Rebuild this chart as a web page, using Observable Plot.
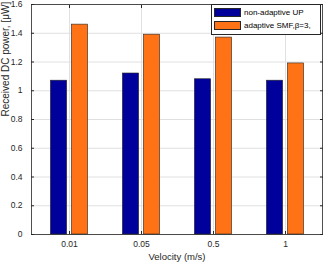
<!DOCTYPE html>
<html><head><meta charset="utf-8">
<script src="https://cdn.jsdelivr.net/npm/d3@7"></script>
<script src="https://cdn.jsdelivr.net/npm/@observablehq/plot@0.6"></script>
<style>
body{margin:0;background:#fff;font-family:"Liberation Sans",Arial,sans-serif;}
#wrap{position:relative;width:324px;height:263px;}
#legend{position:absolute;left:211px;top:4px;width:110px;height:31px;box-sizing:border-box;border:1px solid #262626;background:#fff;font-size:8px;color:#000;}
.row{position:absolute;left:2px;height:9px;display:flex;align-items:center;}
.sw{width:27px;height:9px;box-sizing:border-box;border:1px solid #262626;margin-right:3px;}
</style></head>
<body><div id="wrap"><div id="legend"></div></div>
<script>
const categories = ["0.01", "0.05", "0.5", "1"];
const seriesNames = ["non-adaptive UP", "adaptive SMF,β=3,"];
const nonAdaptive = [1.07, 1.12, 1.08, 1.07];
const adaptive = [1.46, 1.39, 1.37, 1.19];
const yTicks = [0, 0.2, 0.4, 0.6, 0.8, 1, 1.2, 1.4, 1.6];
const xLabel = "Velocity (m/s)";
const yLabel = "Received DC power, [μW]";
const colors = ["#00009b", "#ff7316"];

const dataA = categories.map((c, i) => ({cat: c, v: nonAdaptive[i]}));
const dataB = categories.map((c, i) => ({cat: c, v: adaptive[i]}));

const W = 324, H = 263;
const ml = 31, mr = 2;
const step = (W - ml - mr) / categories.length;
const barW = 17, gap = 4;
const inset = (step - barW) / 2;
const off = (barW + gap) / 2;

const chart = Plot.plot({
  width: W, height: H,
  marginLeft: ml, marginRight: mr, marginTop: 4, marginBottom: 29,
  style: {fontFamily: "Liberation Sans, Arial, sans-serif", fontSize: "8.5px", color: "#262626", background: "#fff"},
  x: {domain: categories, padding: 0},
  y: {domain: [0, 1.6]},
  marks: [
    Plot.gridX(categories, {stroke: "#e0e0e0", strokeOpacity: 1}),
    Plot.gridY(yTicks, {stroke: "#e0e0e0", strokeOpacity: 1}),
    Plot.barY(dataA, {x: "cat", y: "v", fill: colors[0], stroke: "#262626", strokeWidth: 0.6, insetLeft: inset, insetRight: inset, dx: -off}),
    Plot.barY(dataB, {x: "cat", y: "v", fill: colors[1], stroke: "#262626", strokeWidth: 0.6, insetLeft: inset, insetRight: inset, dx: off}),
    Plot.axisX({anchor: "bottom", tickSize: -3, tickPadding: 9, label: null, fill: "#262626"}),
    Plot.axisX({anchor: "top", tickSize: -3, tickFormat: () => "", label: null}),
    Plot.axisY({anchor: "left", ticks: yTicks, tickSize: -3, tickPadding: 12, tickFormat: d => String(d), label: null, fill: "#262626"}),
    Plot.axisY({anchor: "right", ticks: yTicks, tickSize: -3, tickFormat: () => "", label: null}),
    Plot.text([xLabel], {frameAnchor: "bottom", dy: 22, lineAnchor: "middle", fontSize: 9.5, fill: "#262626"}),
    Plot.text([yLabel], {frameAnchor: "left", rotate: -90, dx: -26, dy: -3, fontSize: 10, fill: "#262626"}),
    Plot.frame({stroke: "#262626", strokeWidth: 0.8})
  ]
});
document.getElementById("wrap").prepend(chart);

const leg = document.getElementById("legend");
seriesNames.forEach((n, i) => {
  const r = document.createElement("div");
  r.className = "row";
  r.style.top = (3 + i * 13) + "px";
  r.innerHTML = `<div class="sw" style="background:${colors[i]}"></div><span>${n}</span>`;
  leg.appendChild(r);
});
</script></body></html>
